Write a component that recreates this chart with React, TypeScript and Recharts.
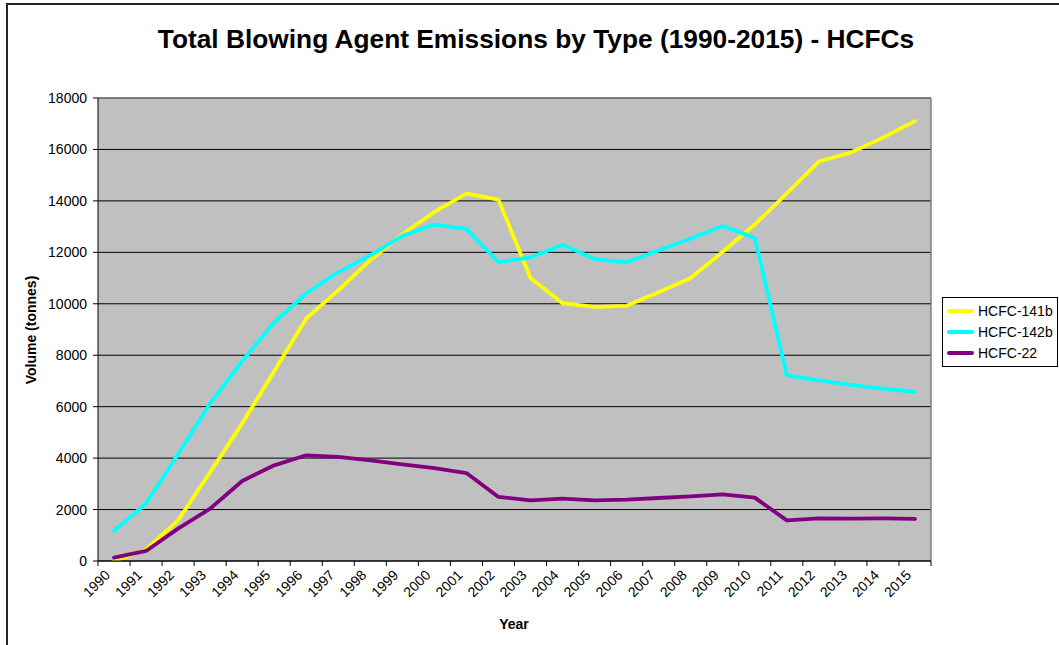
import React from "react";
import { CartesianGrid, Legend, Line, LineChart, XAxis, YAxis } from "recharts";

const years = [
  "1990", "1991", "1992", "1993", "1994", "1995", "1996", "1997", "1998", "1999",
  "2000", "2001", "2002", "2003", "2004", "2005", "2006", "2007", "2008", "2009",
  "2010", "2011", "2012", "2013", "2014", "2015",
];

const hcfc141b = [
  0, 450, 1580, 3450, 5350, 7380, 9430, 10520, 11700, 12700,
  13570, 14280, 14050, 11000, 10020, 9880, 9920, 10450, 11000, 12020,
  13080, 14290, 15530, 15880, 16460, 17100,
];

const hcfc142b = [
  1170, 2240, 4150, 6130, 7770, 9280, 10410, 11230, 11890, 12640,
  13080, 12910, 11620, 11800, 12300, 11740, 11610, 12080, 12540, 13020,
  12560, 7220, 7020, 6850, 6700, 6570,
];

const hcfc22 = [
  130, 390, 1260, 2035, 3110, 3720, 4110, 4045, 3915, 3760,
  3615, 3420, 2490, 2360, 2425, 2360, 2385, 2450, 2515, 2590,
  2465, 1580, 1660, 1650, 1655, 1635,
];

const yTicks = [0, 2000, 4000, 6000, 8000, 10000, 12000, 14000, 16000, 18000];

const SERIES = [
  { key: "hcfc141b", name: "HCFC-141b", color: "#FFFF00" },
  { key: "hcfc142b", name: "HCFC-142b", color: "#00FFFF" },
  { key: "hcfc22", name: "HCFC-22", color: "#800080" },
];

const data = years.map((year, i) => ({
  year,
  hcfc141b: hcfc141b[i],
  hcfc142b: hcfc142b[i],
  hcfc22: hcfc22[i],
}));

const FONT = "'Liberation Sans', Arial, sans-serif";
const W = 1059;
const H = 645;
const PLOT_TOP = 98;
const PLOT_LEFT = 98;
const PLOT_RIGHT = 931;
const BAND = (PLOT_RIGHT - PLOT_LEFT) / years.length;

// excel-style category ticks: marks on the band edges, labels slanted
function YearTick(props: any) {
  const { x, y, payload, index } = props;
  const left = x - BAND / 2;
  const isLast = index === years.length - 1;
  return (
    <g>
      <line x1={left} x2={left} y1={y} y2={y + 5} stroke="#000" />
      {isLast ? <line x1={x + BAND / 2} x2={x + BAND / 2} y1={y} y2={y + 5} stroke="#000" /> : null}
      <text
        x={x - 3}
        y={y + 15}
        transform={`rotate(-45, ${x - 3}, ${y + 15})`}
        textAnchor="end"
        fontSize={14}
        fontFamily={FONT}
        fill="#000"
      >
        {payload.value}
      </text>
    </g>
  );
}

function LegendBox(props: any) {
  const items = props.payload || [];
  return (
    <div
      style={{
        border: "1px solid #000",
        background: "#fff",
        padding: "2px 0 3px 4px",
        fontFamily: FONT,
        fontSize: 14,
        width: 110,
        textAlign: "left",
      }}
    >
      {items.map((item: any) => (
        <div key={item.value} style={{ display: "flex", alignItems: "center", height: 21 }}>
          <span
            style={{
              display: "inline-block",
              width: 27,
              height: 4,
              borderRadius: 2,
              background: item.color,
              marginRight: 4,
            }}
          />
          <span>{item.value}</span>
        </div>
      ))}
    </div>
  );
}

export default function App() {
  return (
    <div style={{ position: "absolute", left: 0, top: 0, width: W, height: H, overflow: "hidden", background: "#fff" }}>
      <div
        style={{
          position: "absolute",
          left: 6,
          top: 3,
          width: W + 20,
          height: H + 20,
          borderLeft: "2px solid #222",
          borderTop: "2px solid #222",
        }}
      />
      <div style={{ position: "absolute", left: 0, top: 0 }}>
        <LineChart
          width={W}
          height={H}
          data={data}
          margin={{ top: PLOT_TOP, right: W - PLOT_RIGHT, bottom: 24, left: 38 }}
        >
          <CartesianGrid vertical={false} fill="#C0C0C0" fillOpacity={1} stroke="#000" />
          {/* grey frame on the top and right of the plot area */}
          <CartesianGrid
            horizontalPoints={[PLOT_TOP]}
            verticalPoints={[PLOT_RIGHT]}
            stroke="#808080"
            strokeWidth={1.5}
          />
          <XAxis
            dataKey="year"
            interval={0}
            height={60}
            padding={{ left: BAND / 2, right: BAND / 2 }}
            tickSize={0}
            tickMargin={0}
            tick={<YearTick />}
            axisLine={{ stroke: "#000" }}
            tickLine={false}
          />
          <YAxis
            width={60}
            domain={[0, 18000]}
            ticks={yTicks}
            allowDataOverflow
            tick={{ fontSize: 14, fontFamily: FONT, fill: "#000" }}
            tickSize={5}
            tickMargin={6}
            axisLine={{ stroke: "#000" }}
            tickLine={{ stroke: "#000" }}
          />
          <Legend
            layout="horizontal"
            verticalAlign="middle"
            align="center"
            content={<LegendBox />}
            wrapperStyle={{ left: 942, top: 297, right: "auto", width: 116 }}
          />
          {SERIES.map((s) => (
            <Line
              key={s.key}
              type="linear"
              dataKey={s.key}
              name={s.name}
              stroke={s.color}
              strokeWidth={3.8}
              strokeLinejoin="round"
              strokeLinecap="round"
              dot={false}
              activeDot={false}
              isAnimationActive={false}
            />
          ))}
        </LineChart>
      </div>
      <svg
        width={W}
        height={H}
        style={{ position: "absolute", left: 0, top: 0, pointerEvents: "none" }}
      >
        <text x={536} y={48} textAnchor="middle" fontSize={26.3} fontWeight="bold" fontFamily={FONT} fill="#000">
          Total Blowing Agent Emissions by Type (1990-2015) - HCFCs
        </text>
        <text
          x={36}
          y={330}
          transform="rotate(-90, 36, 330)"
          textAnchor="middle"
          fontSize={14}
          fontWeight="bold"
          fontFamily={FONT}
          fill="#000"
        >
          Volume (tonnes)
        </text>
        <text x={514} y={629} textAnchor="middle" fontSize={14} fontWeight="bold" fontFamily={FONT} fill="#000">
          Year
        </text>
      </svg>
    </div>
  );
}
